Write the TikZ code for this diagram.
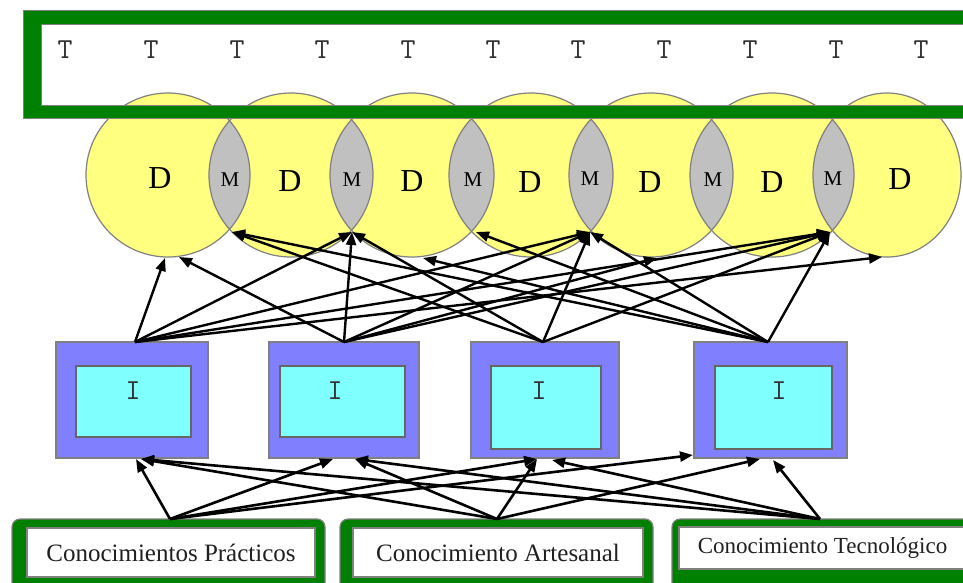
\documentclass[tikz,border=0pt]{standalone}
\usepackage{fontspec}
\setmainfont{Liberation Serif}
\usetikzlibrary{arrows.meta}
\definecolor{dgreen}{HTML}{008000}
\definecolor{dyellow}{HTML}{FFFF80}
\definecolor{lensgray}{HTML}{C0C0C0}
\definecolor{edgegray}{HTML}{808080}
\definecolor{iblue}{HTML}{8080FF}
\definecolor{icyan}{HTML}{80FFFF}
\definecolor{textgray}{HTML}{303030}
\definecolor{boxtext}{HTML}{202020}
\begin{document}
\begin{tikzpicture}[x=1pt,y=-1pt,
  arr/.style={-{Triangle[length=13pt,width=10pt]}, line width=2.4pt, black},
  arrlow/.style={-{Triangle[length=13pt,width=10pt]}, line width=2.6pt, black},
  tlab/.style={font=\ttfamily\fontsize{29}{29}\selectfont, text=textgray, inner sep=0pt},
  ilab/.style={font=\ttfamily\fontsize{29}{29}\selectfont, text=textgray, inner sep=0pt},
  dlab/.style={font=\fontsize{32}{32}\selectfont, inner sep=0pt},
  mlab/.style={font=\fontsize{21}{21}\selectfont, inner sep=0pt},
  iout/.style n args={2}{draw=edgegray, fill=iblue, line width=1.3pt, inner sep=0pt, minimum width=#1, minimum height=#2},
  iin/.style n args={2}{draw=black!60, fill=icyan, line width=1.3pt, inner sep=0pt, minimum width=#1, minimum height=#2},
  kout/.style n args={2}{draw=edgegray, fill=dgreen, line width=1.2pt, rounded corners=8pt, inner sep=0pt, minimum width=#1, minimum height=#2},
  kin/.style n args={2}{draw=edgegray, fill=white, line width=1.2pt, inner sep=0pt, minimum width=#1, minimum height=#2, text=boxtext}
]
\useasboundingbox (0,0) rectangle (963,582);
\clip (0,0) rectangle (963,582);
\fill[white] (0,0) rectangle (963,582);

% banner inner area
\fill[white] (41,24) rectangle (990,105);

% circles
\foreach \c in {168,291,412,531,651,772} \fill[dyellow] (\c,175) circle (82pt);
\fill[dyellow] (887,175) ellipse [x radius=74pt, y radius=82pt];
% lenses
\foreach \a/\b in {168/291, 291/412, 412/531, 531/651, 651/772} {
  \begin{scope}
    \clip (\a,175) circle (82pt);
    \fill[lensgray] (\b,175) circle (82pt);
  \end{scope}
}
\begin{scope}
  \clip (772,175) circle (82pt);
  \fill[lensgray] (887,175) ellipse [x radius=74pt, y radius=82pt];
\end{scope}
\foreach \c in {168,291,412,531,651,772} \draw[edgegray, line width=1.2pt] (\c,175) circle (82pt);
\draw[edgegray, line width=1.2pt] (887,175) ellipse [x radius=74pt, y radius=82pt];

% banner green frame
\fill[dgreen, even odd rule] (23,10) rectangle (990,118) (41,24) rectangle (990,105);
\draw[edgegray, line width=1pt] (23,10) rectangle (990,118);
\draw[edgegray, line width=1pt] (41,24) rectangle (990,105);

% T labels
\foreach \x [count=\i] in {65,151,237,322,408,493,578,664,750,836,921}
  \node[tlab] (T\i) at (\x,50) {T};

% D and M labels
\node[dlab] (D1) at (160,178) {D};
\node[dlab] (D2) at (290,181) {D};
\node[dlab] (D3) at (412,181) {D};
\node[dlab] (D4) at (530,182) {D};
\node[dlab] (D5) at (650,182) {D};
\node[dlab] (D6) at (772,182) {D};
\node[dlab] (D7) at (900,179) {D};
\node[mlab] (M1) at (230,180) {M};
\node[mlab] (M2) at (352,180) {M};
\node[mlab] (M3) at (473,180) {M};
\node[mlab] (M4) at (590,179) {M};
\node[mlab] (M5) at (713,180) {M};
\node[mlab] (M6) at (833,179) {M};

% I boxes
\node[iout={152pt}{116pt}] (I1) at (132,400) {};
\node[iin={115pt}{71pt}] (I1i) at (133.5,401.5) {};
\node[ilab] (I1l) at (133,391) {I};
\node[iout={150pt}{116pt}] (I2) at (344,400) {};
\node[iin={125pt}{71pt}] (I2i) at (342.5,401.5) {};
\node[ilab] (I2l) at (335,391) {I};
\node[iout={148pt}{116pt}] (I3) at (545,400) {};
\node[iin={110pt}{83pt}] (I3i) at (546,407.5) {};
\node[ilab] (I3l) at (539,391) {I};
\node[iout={153pt}{116pt}] (I4) at (770.5,400) {};
\node[iin={117pt}{83pt}] (I4i) at (773.5,407.5) {};
\node[ilab] (I4l) at (779,391) {I};

% bottom boxes
\node[kout={313pt}{80pt}] (B1) at (168.5,559) {};
\node[kin={288pt}{49pt}, font=\fontsize{25}{25}\selectfont] (B1t) at (171,552.5) {Conocimientos Prácticos};
\node[kout={313pt}{80pt}] (B2) at (496.5,559) {};
\node[kin={290pt}{49pt}, font=\fontsize{25}{25}\selectfont] (B2t) at (498,552.5) {Conocimiento Artesanal};
\node[kout={318pt}{80pt}] (B3) at (831,559) {};
\node[kin={287pt}{42pt}, font=\fontsize{23}{23}\selectfont] (B3t) at (822.5,548) {Conocimiento Tecnológico};

% connector end points
\coordinate (s1) at (135,342);
\coordinate (s2) at (344,342);
\coordinate (s3) at (543,342);
\coordinate (s4) at (768,342);
\coordinate (tc1a) at (165,258);
\coordinate (tc1b) at (179,257);
\coordinate (tL1) at (232,232);
\coordinate (tL2) at (352,232);
\coordinate (tc3) at (423,258);
\coordinate (tL3) at (476,232);
\coordinate (tL4) at (590,232);
\coordinate (tc5) at (657,258);
\coordinate (tL6) at (830,232);
\coordinate (tc7) at (882,257);

\coordinate (b1) at (170,519);
\coordinate (b2) at (497,519);
\coordinate (b3) at (820,519);
\coordinate (i1a) at (136,459);
\coordinate (i1b) at (141,459);
\coordinate (i2a) at (333,459);
\coordinate (i2b) at (355,459);
\coordinate (i3a) at (537,459);
\coordinate (i3b) at (552,460);
\coordinate (i4a) at (760,459);
\coordinate (i4b) at (773,460);
\coordinate (i4c) at (693,455);

% upper connectors
\foreach \s/\t in {s1/tc1a, s1/tL2, s1/tL4, s1/tL6, s1/tc7,
                   s2/tc1b, s2/tL2, s2/tL4, s2/tc5, s2/tL6,
                   s3/tL1, s3/tL2, s3/tL4, s3/tL6,
                   s4/tL1, s4/tc3, s4/tL3, s4/tL4, s4/tL6}
  \draw[arr] (\s) -- (\t);

% lower connectors
\foreach \s/\t in {b1/i1a, b1/i2a, b1/i3a, b1/i4c,
                   b2/i1b, b2/i2b, b2/i3a, b2/i4a,
                   b3/i1b, b3/i2b, b3/i3b, b3/i4b}
  \draw[arrlow] (\s) -- (\t);
\end{tikzpicture}
\end{document}
